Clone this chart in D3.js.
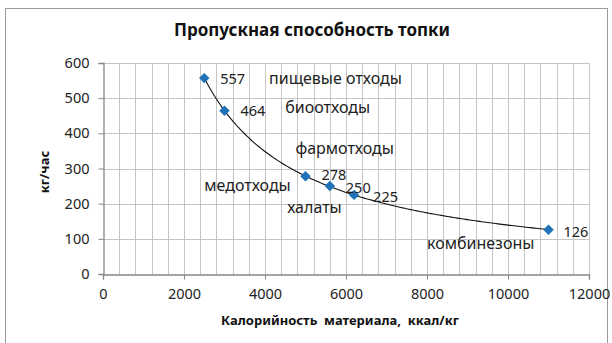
<!DOCTYPE html>
<html>
<head>
<meta charset="utf-8">
<script src="https://cdn.jsdelivr.net/npm/d3@7"></script>
<style>
  html, body { margin: 0; padding: 0; background: #fff; }
  svg { display: block; font-family: "Noto Sans", "Open Sans", sans-serif; }
</style>
</head>
<body>
<svg id="chart" width="612" height="343"></svg>
<script>
// Calorific value of material (kcal/kg) and furnace throughput (kg/h)
const calorific = [2500, 3000, 5000, 5600, 6200, 11000];
const throughput = [557, 464, 278, 250, 225, 126];
const wasteTypes = ["пищевые отходы", "биоотходы", "фармотходы", "медотходы", "халаты", "комбинезоны"];
const xTicks = [0, 2000, 4000, 6000, 8000, 10000, 12000];
const yTicks = [0, 100, 200, 300, 400, 500, 600];

// Where each waste-type caption sits (data space: left edge x, middle y)
const captionAnchor = [[4100, 557], [4500, 474], [4750, 358], [2500, 253], [4550, 188], [8000, 88]];
// Value label nudges (px)
const valueNudge = [[16, 1], [16, 0], [16, -1], [16, 2], [19, 2], [15, 2]];

const svg = d3.select("#chart");
const x = d3.scaleLinear().domain([0, 12000]).range([103, 589]);
const y = d3.scaleLinear().domain([0, 600]).range([274, 63]);

// chart border
svg.append("rect").attr("x", 5.5).attr("y", 8.5).attr("width", 602).attr("height", 345)
  .attr("fill", "none").attr("stroke", "#9a9a9a").attr("stroke-width", 1);

// gridlines
const g = svg.append("g").attr("shape-rendering", "crispEdges");
g.selectAll("line.vg").data(d3.range(400, 12001, 400)).join("line")
  .attr("x1", d => Math.round(x(d)) + 0.5).attr("x2", d => Math.round(x(d)) + 0.5)
  .attr("y1", y(600)).attr("y2", y(0))
  .attr("stroke", "#c4c4c4").attr("stroke-width", 1);
g.selectAll("line.hg").data(yTicks.slice(1)).join("line")
  .attr("x1", x(0)).attr("x2", x(12000))
  .attr("y1", d => Math.round(y(d)) + 0.5).attr("y2", d => Math.round(y(d)) + 0.5)
  .attr("stroke", "#c4c4c4").attr("stroke-width", 1.3);

// axes
const xAxis = svg.append("g").attr("transform", `translate(0,${Math.round(y(0)) + 0.5})`)
  .call(d3.axisBottom(x).tickValues(xTicks).tickSize(5).tickPadding(9).tickFormat(d3.format("d")));
const yAxis = svg.append("g").attr("transform", `translate(${Math.round(x(0)) + 0.5},0)`)
  .call(d3.axisLeft(y).tickValues(yTicks).tickSize(5).tickPadding(9));
[xAxis, yAxis].forEach(a => {
  a.select(".domain").attr("stroke", "#868686").attr("stroke-width", 1.3);
  a.selectAll(".tick line").attr("stroke", "#868686");
  a.selectAll(".tick text").attr("font-family", "Noto Sans").attr("font-size", 14.5).attr("fill", "#222");
});

// power trendline fitted to the points (least squares on logs)
const lx = calorific.map(Math.log), ly = throughput.map(Math.log);
const mx = d3.mean(lx), my = d3.mean(ly);
const b = d3.sum(lx, (v, i) => (v - mx) * (ly[i] - my)) / d3.sum(lx, v => (v - mx) ** 2);
const a = Math.exp(my - b * mx);
const trendX = d3.range(calorific[0], calorific[calorific.length - 1] + 1, 50);
svg.append("path").datum(trendX)
  .attr("d", d3.line().x(d => x(d)).y(d => y(a * Math.pow(d, b))))
  .attr("fill", "none").attr("stroke", "#111").attr("stroke-width", 1.1);

// markers
svg.selectAll("path.pt").data(calorific).join("path")
  .attr("transform", (d, i) => `translate(${x(d)},${y(throughput[i])})`)
  .attr("d", d3.symbol(d3.symbolDiamond2, 70))
  .attr("fill", "#1f72b8");

// value labels
svg.selectAll("text.val").data(throughput).join("text")
  .attr("x", (d, i) => x(calorific[i]) + valueNudge[i][0])
  .attr("y", (d, i) => y(d) + valueNudge[i][1])
  .attr("dy", "0.35em").attr("font-size", 14.5).attr("fill", "#222")
  .text(d => d);

// waste-type captions
svg.selectAll("text.cap").data(wasteTypes).join("text")
  .attr("x", (d, i) => x(captionAnchor[i][0]))
  .attr("y", (d, i) => y(captionAnchor[i][1]))
  .attr("dy", "0.35em").attr("font-size", 16).attr("fill", "#222")
  .text(d => d);

// titles
svg.append("text").attr("x", 312).attr("y", 30).attr("dy", "0.35em")
  .attr("text-anchor", "middle").attr("font-weight", "bold").attr("font-size", 17).attr("fill", "#111")
  .text("Пропускная способность топки");
svg.append("text").attr("transform", "translate(44,172) rotate(-90)").attr("dy", "0.35em")
  .attr("text-anchor", "middle").attr("font-weight", "bold").attr("font-size", 13).attr("fill", "#111")
  .text("кг/час");
svg.append("text").attr("x", 340).attr("y", 320).attr("dy", "0.35em")
  .attr("text-anchor", "middle").attr("font-weight", "bold").attr("font-size", 13).attr("fill", "#111")
  .attr("xml:space", "preserve").style("white-space", "pre")
  .text("Калорийность  материала,  ккал/кг");
</script>
</body>
</html>
